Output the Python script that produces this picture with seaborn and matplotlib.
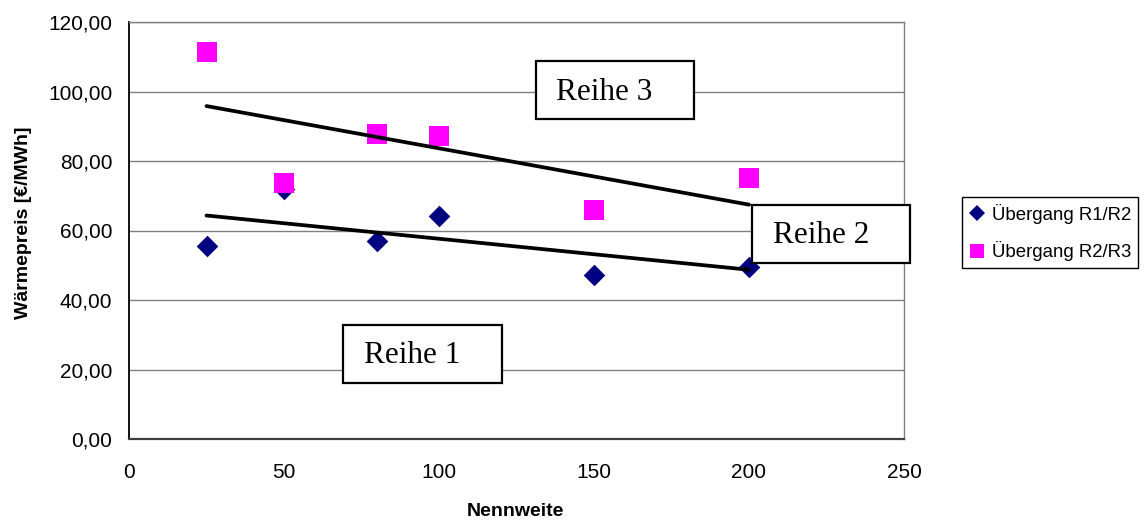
import matplotlib
matplotlib.use("Agg")
import matplotlib.pyplot as plt
from matplotlib.patches import Rectangle
from matplotlib.lines import Line2D
from matplotlib.ticker import FuncFormatter
import seaborn as sns
import pandas as pd

# ---- data ----
nennweite = [25, 50, 80, 100, 150, 200]
r1_r2 = [55.5, 71.9, 57.0, 64.2, 47.2, 49.5]
r2_r3 = [111.4, 73.7, 87.8, 87.2, 65.9, 75.1]
series_names = ["Übergang R1/R2", "Übergang R2/R3"]
x_ticks = [0, 50, 100, 150, 200, 250]
y_ticks = [0, 20, 40, 60, 80, 100, 120]
box_labels = ["Reihe 1", "Reihe 2", "Reihe 3"]
x_title = "Nennweite"
y_title = "Wärmepreis [€/MWh]"

df1 = pd.DataFrame({"x": nennweite, "y": r1_r2})
df2 = pd.DataFrame({"x": nennweite, "y": r2_r3})

sns.set_style("white")
plt.rcParams["font.family"] = ["Liberation Sans", "DejaVu Sans"]
plt.rcParams["text.color"] = "black"
plt.rcParams["axes.labelcolor"] = "black"
plt.rcParams["xtick.color"] = "black"
plt.rcParams["ytick.color"] = "black"

W, H = 1144, 525
fig = plt.figure(figsize=(W / 100, H / 100), dpi=100)
L, R, T, B = 129, 904, 22, 439
ax = fig.add_axes([L / W, 1 - B / H, (R - L) / W, (B - T) / H])

navy = "#000080"
magenta = "#FF00FF"

sns.scatterplot(data=df1, x="x", y="y", ax=ax, marker="D", s=121,
                color=navy, linewidth=0, zorder=3, legend=False)
sns.scatterplot(data=df2, x="x", y="y", ax=ax, marker="s", s=207,
                color=magenta, linewidth=0, zorder=3, legend=False)

for d in (df1, df2):
    sns.regplot(data=d, x="x", y="y", ax=ax, scatter=False, ci=None,
                truncate=True, color="black",
                line_kws={"lw": 2.7, "zorder": 4, "solid_capstyle": "round"})

ax.set_xlim(x_ticks[0], x_ticks[-1])
ax.set_ylim(y_ticks[0], y_ticks[-1])
ax.set_xticks(x_ticks)
ax.set_yticks(y_ticks)
ax.yaxis.set_major_formatter(FuncFormatter(lambda v, p: f"{v:.2f}".replace(".", ",")))
ax.xaxis.set_major_formatter(FuncFormatter(lambda v, p: f"{v:.0f}"))

ax.grid(axis="y", color="#808080", lw=1.0)
ax.grid(axis="x", visible=False)
ax.set_axisbelow(True)

ax.tick_params(axis="both", direction="out", length=5, width=1,
               colors="#404040", labelsize=15, labelcolor="black")
ax.tick_params(axis="x", pad=12)
ax.tick_params(axis="y", pad=7)

for side, col, lw in [("left", "black", 1.3), ("bottom", "#404040", 1.6),
                      ("right", "#808080", 1.0), ("top", "#808080", 1.0)]:
    ax.spines[side].set_visible(True)
    ax.spines[side].set_color(col)
    ax.spines[side].set_linewidth(lw)

ax.set_xlabel(x_title, fontsize=14, fontweight="bold", color="black")
ax.set_ylabel(y_title, fontsize=14, fontweight="bold", color="black")
ax.xaxis.set_label_coords((515.5 - L) / (R - L), -(503 - B) / (B - T))
ax.yaxis.set_label_coords(-(L - 32) / (R - L), (B - 222.5) / (B - T))

# ---- text boxes (pixel layout converted to axes fractions) ----
def px2ax(px, py):
    return (px - L) / (R - L), (B - py) / (B - T)

boxes = [
    # (label, box x0, y_top, x1, y_bottom, text x, baseline y)
    (box_labels[0], 343, 325, 502, 383, 364, 363),
    (box_labels[1], 752, 205, 910, 263, 773, 243),
    (box_labels[2], 536, 61, 694, 119, 556, 100),
]
for lab, x0, yt, x1, yb, tx, ty in boxes:
    ax0, ay0 = px2ax(x0, yb)
    ax1, ay1 = px2ax(x1, yt)
    ax.add_patch(Rectangle((ax0, ay0), ax1 - ax0, ay1 - ay0, transform=ax.transAxes,
                           facecolor="white", edgecolor="black", lw=1.6,
                           clip_on=False, zorder=5))
    txa, tya = px2ax(tx, ty)
    ax.text(txa, tya, lab, transform=ax.transAxes, ha="left", va="baseline",
            fontsize=22.5, family=["Liberation Serif", "DejaVu Serif"],
            color="black", zorder=6, clip_on=False)

# ---- legend ----
handles = [
    Line2D([], [], marker="D", color=navy, ls="none", ms=8.5, mew=0),
    Line2D([], [], marker="s", color=magenta, ls="none", ms=10, mew=0),
]
leg = fig.legend(handles, series_names, loc="upper right",
                 bbox_to_anchor=(1138 / W, 1 - 197 / H), fontsize=13.4,
                 frameon=True, fancybox=False, edgecolor="black",
                 framealpha=1, borderpad=0.35, labelspacing=0.95,
                 handlelength=0.9, handletextpad=0.35, borderaxespad=0)
leg.get_frame().set_linewidth(1.0)
for t in leg.get_texts():
    t.set_color("black")

fig.savefig("out.png", dpi=100)
